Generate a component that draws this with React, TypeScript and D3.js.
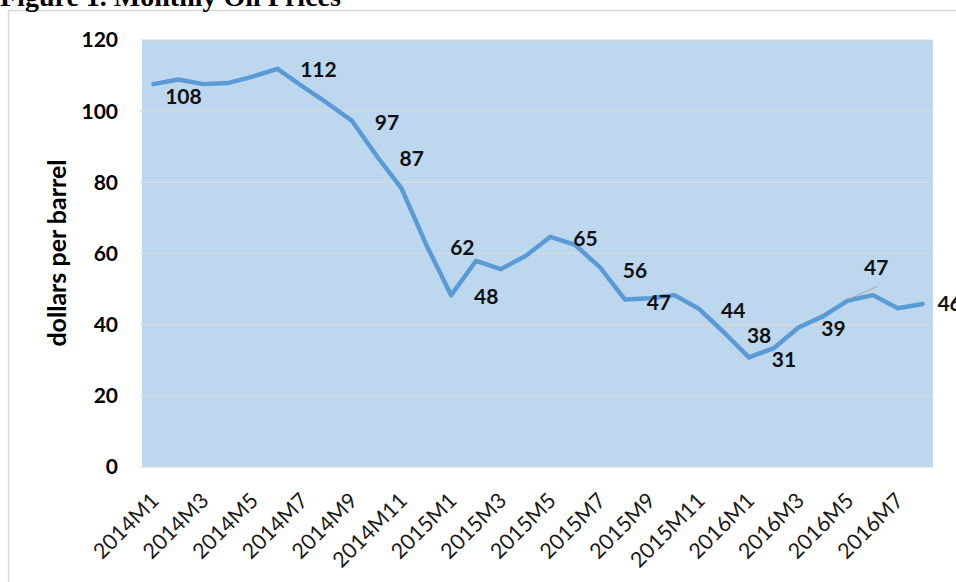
import { useEffect, useRef } from "react";
import * as d3 from "d3";

const months = [
  "2014M1", "2014M2", "2014M3", "2014M4", "2014M5", "2014M6", "2014M7", "2014M8",
  "2014M9", "2014M10", "2014M11", "2014M12", "2015M1", "2015M2", "2015M3", "2015M4",
  "2015M5", "2015M6", "2015M7", "2015M8", "2015M9", "2015M10", "2015M11", "2015M12",
  "2016M1", "2016M2", "2016M3", "2016M4", "2016M5", "2016M6", "2016M7", "2016M8",
];

// dollars per barrel
const prices = [
  107.6, 108.9, 107.6, 107.9, 109.7, 111.9, 107.0, 102.3,
  97.3, 87.4, 78.3, 62.4, 48.3, 57.9, 55.6, 59.3,
  64.7, 62.4, 56.1, 47.1, 47.4, 48.3, 44.4, 37.8,
  30.8, 33.4, 39.2, 42.4, 46.8, 48.3, 44.6, 45.8,
];

const yTicks = [0, 20, 40, 60, 80, 100, 120];

// which points carry a value label
const labelled = [0, 5, 8, 9, 11, 12, 16, 18, 19, 22, 23, 24, 26, 28, 31];
// label offsets from the point (layout only)
const labelDx = [30, 41, 35, 35, 36, 35, 35, 35, 34, 34, 35, 35, 35, 28, 27];
const labelDy = [13, 1, 2, 3, 3, 2, 2, 3, 3, 2, 3, 2, 1, -33, 0];

const W = 956;
const H = 582;

export default function App() {
  const svgRef = useRef<SVGSVGElement>(null);

  useEffect(() => {
    const svg = d3.select(svgRef.current);
    svg.selectAll("*").remove();

    const left = 141, right = 935, top = 40, bottom = 467;

    const x = d3.scalePoint<string>().domain(months).range([left, right]).padding(0.5);
    const y = d3.scaleLinear().domain([0, 120]).range([bottom, top]);

    // outer chart frame
    svg.append("rect")
      .attr("x", 8.5).attr("y", 10.5)
      .attr("width", 1000).attr("height", 700)
      .attr("fill", "white")
      .attr("stroke", "#d9d9d9").attr("stroke-width", 1.5);

    svg.append("text")
      .attr("x", 0).attr("y", 6)
      .attr("font-family", "'Liberation Serif', serif")
      .attr("font-weight", "bold")
      .attr("font-size", 28)
      .text("Figure 1. Monthly Oil Prices");

    // plot area
    svg.append("rect")
      .attr("x", left + 1).attr("y", top)
      .attr("width", right - left - 3).attr("height", bottom - top)
      .attr("fill", "#bdd7ee");

    svg.append("g")
      .selectAll("line")
      .data(yTicks)
      .join("line")
      .attr("x1", left - 1).attr("x2", right - 2)
      .attr("y1", (d) => y(d)).attr("y2", (d) => y(d))
      .attr("stroke", "#d9d9d9").attr("stroke-width", 1.2);

    // y axis labels
    svg.append("g")
      .selectAll("text")
      .data(yTicks)
      .join("text")
      .attr("x", 118).attr("y", (d) => y(d))
      .attr("dy", "0.35em")
      .attr("text-anchor", "end")
      .attr("font-family", "Lato, sans-serif")
      .attr("font-weight", "bold")
      .attr("font-size", 21)
      .text((d) => d);

    svg.append("text")
      .attr("transform", `translate(57, 253) rotate(-90)`)
      .attr("dy", "0.35em")
      .attr("text-anchor", "middle")
      .attr("font-family", "Lato, sans-serif")
      .attr("font-weight", "bold")
      .attr("font-size", 25)
      .text("dollars per barrel");

    // x axis labels, every other month
    svg.append("g")
      .selectAll("text")
      .data(months.filter((_, i) => i % 2 === 0))
      .join("text")
      .attr("transform", (d) => `translate(${(x(d) as number) + 7}, 502) rotate(-45)`)
      .attr("text-anchor", "end")
      .attr("font-family", "Lato, sans-serif")
      .attr("font-size", 21.5)
      .attr("fill", "#1a1a1a")
      .text((d) => d);

    const line = d3.line<number>()
      .x((_, i) => x(months[i]) as number)
      .y((d) => y(d));

    svg.append("path")
      .datum(prices)
      .attr("d", line)
      .attr("fill", "none")
      .attr("stroke", "#5b9bd5")
      .attr("stroke-width", 4.5)
      .attr("stroke-linejoin", "round")
      .attr("stroke-linecap", "round");

    // leader line for the 2016M5 label
    const li = labelled.indexOf(28);
    svg.append("line")
      .attr("x1", x(months[28]) as number)
      .attr("y1", y(prices[28]) - 1)
      .attr("x2", (x(months[28]) as number) + labelDx[li] + 1)
      .attr("y2", y(prices[28]) + labelDy[li] + 19)
      .attr("stroke", "#a6a6a6").attr("stroke-width", 1);

    svg.append("g")
      .selectAll("text")
      .data(labelled)
      .join("text")
      .attr("x", (d, i) => (x(months[d]) as number) + labelDx[i])
      .attr("y", (d, i) => y(prices[d]) + labelDy[i])
      .attr("dy", "0.35em")
      .attr("text-anchor", "middle")
      .attr("font-family", "Lato, sans-serif")
      .attr("font-weight", "bold")
      .attr("font-size", 21)
      .attr("fill", "#111")
      .text((d) => Math.round(prices[d]));
  }, []);

  return (
    <svg
      ref={svgRef}
      width={W}
      height={H}
      style={{ position: "absolute", left: 0, top: 0, background: "white" }}
    />
  );
}
